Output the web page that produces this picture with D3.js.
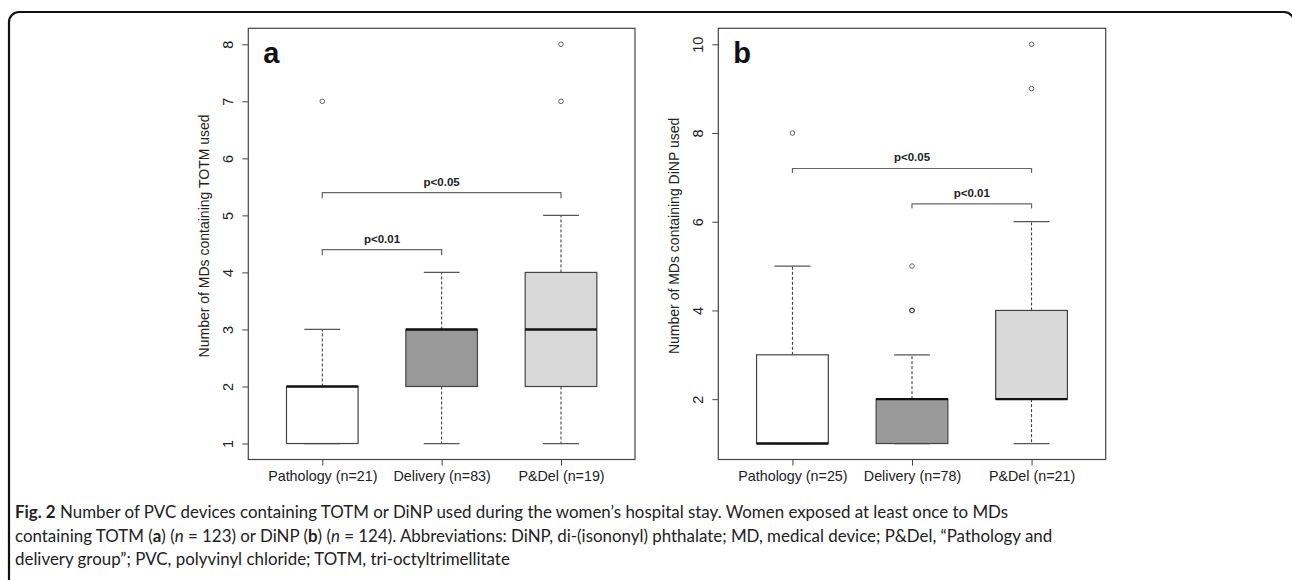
<!DOCTYPE html>
<html>
<head>
<meta charset="utf-8">
<script src="https://cdn.jsdelivr.net/npm/d3@7"></script>
<style>
  body { margin: 0; background: #fff; }
  svg { display: block; }
  .tick text { font-family: "Liberation Sans", Arial, sans-serif; }
</style>
</head>
<body>
<div id="fig"></div>
<script>
const width = 1292, height = 580;

// panel a (TOTM)
const catsA = ["Pathology (n=21)", "Delivery (n=83)", "P&Del (n=19)"];
const loA = [1, 1, 1];
const q1A = [1, 2, 2];
const medA = [2, 3, 3];
const q3A = [2, 3, 4];
const hiA = [3, 4, 5];
const outA = [[7], [], [7, 8]];
const ticksA = [1, 2, 3, 4, 5, 6, 7, 8];
const sigA = [
  { from: 1, to: 2, y: 4.4, label: "p<0.01" },
  { from: 1, to: 3, y: 5.4, label: "p<0.05" }
];

// panel b (DiNP)
const catsB = ["Pathology (n=25)", "Delivery (n=78)", "P&Del (n=21)"];
const loB = [1, 1, 1];
const q1B = [1, 1, 2];
const medB = [1, 2, 2];
const q3B = [3, 2, 4];
const hiB = [5, 3, 6];
const outB = [[8], [4, 4, 4, 5], [9, 10]];
const ticksB = [2, 4, 6, 8, 10];
const sigB = [
  { from: 1, to: 3, y: 7.2, label: "p<0.05" },
  { from: 2, to: 3, y: 6.4, label: "p<0.01" }
];

const fills = ["#ffffff", "#999999", "#d9d9d9"];

const svg = d3.select("#fig")
  .append("svg")
  .attr("width", width)
  .attr("height", height);

svg.append("rect")
  .attr("width", width).attr("height", height)
  .attr("fill", "#fff");

// figure frame
svg.append("rect")
  .attr("x", 9).attr("y", 12)
  .attr("width", 1285).attr("height", 620)
  .attr("rx", 10)
  .attr("fill", "none")
  .attr("stroke", "#111")
  .attr("stroke-width", 2.2);

function panel(opt) {
  const top = 28.3, bottom = 459.5;
  const g = svg.append("g");
  const ymin = d3.min(opt.lo), ymax = d3.max(opt.out.flat().concat(opt.hi));
  const pad = (ymax - ymin) * 0.04;

  const x = d3.scaleLinear()
    .domain([0.38, 3.62])
    .range([opt.left, opt.right]);
  const y = d3.scaleLinear()
    .domain([ymin - pad, ymax + pad])
    .range([bottom, top]);

  const bw = 0.3; // half box width in x units

  // brackets
  opt.sig.forEach(s => {
    const drop = 0.1;
    g.append("path")
      .attr("d", `M${x(s.from)},${y(s.y - drop)}V${y(s.y)}H${x(s.to)}V${y(s.y - drop)}`)
      .attr("fill", "none")
      .attr("stroke", "#666")
      .attr("stroke-width", 1.2);
    g.append("text")
      .attr("x", (x(s.from) + x(s.to)) / 2)
      .attr("y", y(s.y) - 7)
      .attr("text-anchor", "middle")
      .attr("font-family", "Liberation Sans, Arial, sans-serif")
      .attr("font-weight", "bold")
      .attr("font-size", 11.5)
      .attr("fill", "#222")
      .text(s.label);
  });

  opt.cats.forEach((c, i) => {
    const cx = i + 1;
    // whiskers
    [[opt.q3[i], opt.hi[i]], [opt.q1[i], opt.lo[i]]].forEach(([a, b]) => {
      if (a !== b) {
        g.append("line")
          .attr("x1", x(cx)).attr("x2", x(cx))
          .attr("y1", y(a)).attr("y2", y(b))
          .attr("stroke", "#333")
          .attr("stroke-dasharray", "3,2");
      }
      g.append("line")
        .attr("x1", x(cx - bw / 2)).attr("x2", x(cx + bw / 2))
        .attr("y1", y(b)).attr("y2", y(b))
        .attr("stroke", "#555")
        .attr("stroke-width", 1.2);
    });
    // box
    g.append("rect")
      .attr("x", x(cx - bw))
      .attr("width", x(cx + bw) - x(cx - bw))
      .attr("y", y(opt.q3[i]))
      .attr("height", y(opt.q1[i]) - y(opt.q3[i]))
      .attr("fill", fills[i])
      .attr("stroke", "#444")
      .attr("stroke-width", 1.2);
    // median
    g.append("line")
      .attr("x1", x(cx - bw)).attr("x2", x(cx + bw))
      .attr("y1", y(opt.med[i])).attr("y2", y(opt.med[i]))
      .attr("stroke", "#111")
      .attr("stroke-width", 2.4);
    // outliers
    g.selectAll(null)
      .data(opt.out[i])
      .join("circle")
      .attr("cx", x(cx))
      .attr("cy", d => y(d))
      .attr("r", 2.3)
      .attr("fill", "none")
      .attr("stroke", "#555")
      .attr("stroke-width", 0.9);
  });

  // plot box
  g.append("rect")
    .attr("x", opt.left).attr("y", top)
    .attr("width", opt.right - opt.left)
    .attr("height", bottom - top)
    .attr("fill", "none")
    .attr("stroke", "#444")
    .attr("stroke-width", 1.2);

  // y axis
  const ya = g.append("g")
    .attr("transform", `translate(${opt.left},0)`)
    .call(d3.axisLeft(y).tickValues(opt.ticks).tickSize(6).tickSizeOuter(0));
  ya.select(".domain").remove();
  ya.selectAll(".tick line").attr("stroke", "#444");
  ya.selectAll(".tick text")
    .attr("x", 0).attr("dy", null)
    .attr("y", -15)
    .attr("transform", "rotate(-90)")
    .attr("text-anchor", "middle")
    .attr("font-size", 14.5)
    .attr("fill", "#222");

  // x axis
  const xa = g.append("g")
    .attr("transform", `translate(0,${bottom})`)
    .call(d3.axisBottom(x).tickValues([1, 2, 3]).tickSize(6).tickSizeOuter(0)
      .tickFormat((d, i) => opt.cats[i]));
  xa.select(".domain").remove();
  xa.selectAll(".tick line").attr("stroke", "#444");
  xa.selectAll(".tick text")
    .attr("y", 11)
    .attr("font-size", 14.3)
    .attr("fill", "#222");

  // axis title
  g.append("text")
    .attr("transform", `translate(${opt.left - 39},${(top + bottom) / 2 - 8}) rotate(-90)`)
    .attr("text-anchor", "middle")
    .attr("font-family", "Liberation Sans, Arial, sans-serif")
    .attr("font-size", 14)
    .attr("fill", "#222")
    .text(opt.title);

  // panel letter
  g.append("text")
    .attr("x", opt.left + 15)
    .attr("y", 63)
    .attr("font-family", "Liberation Sans, Arial, sans-serif")
    .attr("font-weight", "bold")
    .attr("font-size", 29)
    .attr("fill", "#111")
    .text(opt.letter);
}

panel({ left: 248.3, right: 635, cats: catsA, lo: loA, q1: q1A, med: medA, q3: q3A, hi: hiA,
  out: outA, ticks: ticksA, sig: sigA, title: "Number of MDs containing TOTM used", letter: "a" });
panel({ left: 718.3, right: 1105.7, cats: catsB, lo: loB, q1: q1B, med: medB, q3: q3B, hi: hiB,
  out: outB, ticks: ticksB, sig: sigB, title: "Number of MDs containing DiNP used", letter: "b" });

// caption
const cap = svg.append("text")
  .attr("font-family", "Lato, Open Sans, sans-serif")
  .attr("font-size", 16.9)
  .attr("fill", "#222");

const l1 = cap.append("tspan").attr("x", 15).attr("y", 518);
l1.append("tspan").attr("font-weight", "bold").text("Fig. 2");
l1.append("tspan").text(" Number of PVC devices containing TOTM or DiNP used during the women\u2019s hospital stay. Women exposed at least once to MDs");

const l2 = cap.append("tspan").attr("x", 15).attr("y", 541.5);
l2.append("tspan").text("containing TOTM (");
l2.append("tspan").attr("font-weight", "bold").text("a");
l2.append("tspan").text(") (");
l2.append("tspan").attr("font-style", "italic").text("n");
l2.append("tspan").text(" = 123) or DiNP (");
l2.append("tspan").attr("font-weight", "bold").text("b");
l2.append("tspan").text(") (");
l2.append("tspan").attr("font-style", "italic").text("n");
l2.append("tspan").text(" = 124). Abbreviations: DiNP, di-(isononyl) phthalate; MD, medical device; P&Del, \u201cPathology and");

cap.append("tspan").attr("x", 15).attr("y", 564.5)
  .text("delivery group\u201d; PVC, polyvinyl chloride; TOTM, tri-octyltrimellitate");
</script>
</body>
</html>
